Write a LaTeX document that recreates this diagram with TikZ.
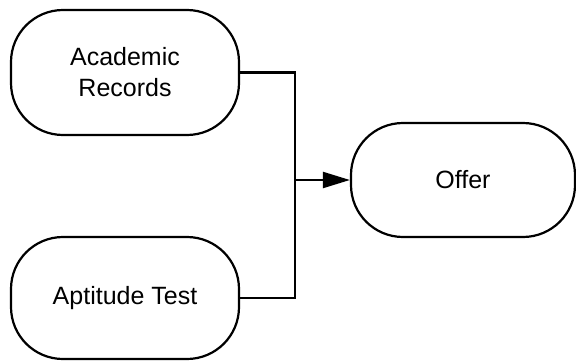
\documentclass[tikz,border=0pt]{standalone}
\usepackage{fontspec}
\setmainfont{Liberation Sans}
\usetikzlibrary{arrows.meta}
\tikzset{
  term/.style={draw, line width=2.2pt, rounded corners=52pt, align=center,
    font=\fontsize{25}{31}\selectfont},
  link/.style={line width=2.2pt}
}
\begin{document}
\begin{tikzpicture}[x=1pt,y=1pt]
            \useasboundingbox (0,0) rectangle (576,360);
            \node [term, minimum width=228pt, minimum height=125pt] (acad) at (125,287.5) {Academic\\Records};
            \node [term, minimum width=228pt, minimum height=122pt] (apt) at (125,62) {Aptitude Test};
            \node [term, minimum width=224pt, minimum height=114pt] (offer) at (463,180) {Offer};
            \coordinate (join) at (295,180);
            \draw [link] (acad.east) -| (join);
            \draw [link] (apt.east) -| (join);
            \draw [link, -{Triangle[length=27pt,width=16pt]}] (join) -- (offer.west);
        \end{tikzpicture}
\end{document}
